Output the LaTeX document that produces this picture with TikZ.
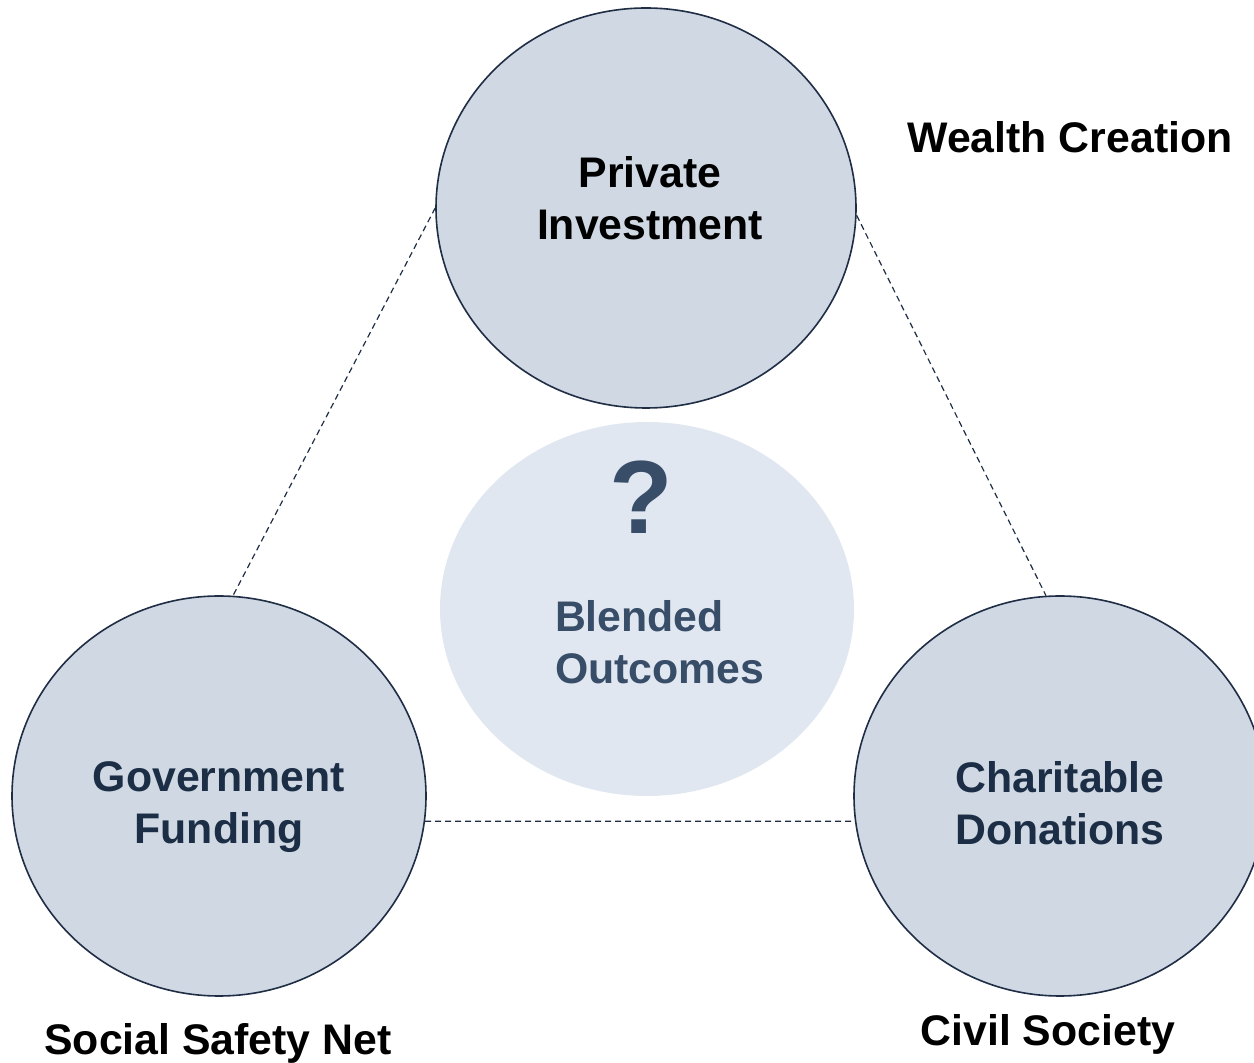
\documentclass[tikz,border=0pt]{standalone}
\usepackage{fontspec}
\setmainfont{Liberation Sans}
\usetikzlibrary{shapes.geometric}
\usetikzlibrary{positioning}
\definecolor{hubfill}{HTML}{CFD8E3}
\definecolor{hubline}{HTML}{1F2D45}
\definecolor{blendfill}{HTML}{E1E7F1}
\definecolor{navytext}{HTML}{1C2E45}
\definecolor{slatetext}{HTML}{384D68}
\tikzset{x=0.5pt,y=-0.5pt,
    hub/.style={
        ellipse,
        draw=hubline,
        line width=0.8pt,
        fill=hubfill,
        inner sep=0pt,
        minimum width=206pt,
        minimum height=200pt},
    hubtext/.style={
        align=center,
        font=\bfseries\fontsize{21.4}{26}\selectfont},
    blend/.style={
        ellipse,
        fill=blendfill,
        inner sep=0pt,
        minimum width=207pt,
        minimum height=187pt},
    caption/.style={
        font=\bfseries\fontsize{21.4}{26}\selectfont},
    link/.style={
        draw=hubline,
        dash pattern=on 3pt off 2pt,
        line width=0.6pt}}

\begin{document}
\begin{tikzpicture}
        \useasboundingbox (0,0) rectangle (1254,1063);
        \node[blend] (mix) at (647,609) {};
        \node[font=\bfseries\fontsize{52}{52}\selectfont,text=slatetext] (qm) at (641,497) {?};
        \node[anchor=west,align=left,text=slatetext,caption] (bo) at (548,642) {Blended\\Outcomes};

        \node[hub,minimum width=210pt,
            label={[hubtext,xshift=2pt,yshift=5pt]center:Private\\Investment}] (priv) at (646,208) {};
        \node[hub,minimum width=207pt,
            label={[hubtext,text=navytext,yshift=-5.5pt]center:Government\\Funding}] (gov) at (219,796) {};
        \node[hub,
            label={[hubtext,text=navytext,yshift=-3.5pt]center:Charitable\\Donations}] (char) at (1060,796) {};

        \draw[link] (priv.180) -- (gov.86);
        \draw[link] (priv.-2) -- (char.94);
        \draw[link] (gov.-7) -- (char.187);

        \node[caption] (wealth) at (1070,137) {Wealth Creation};
        \node[caption] (safety) at (218,1043) {Social Safety Net};
        \node[caption] (civil) at (1048,1034) {Civil Society};
    \end{tikzpicture}
\end{document}
